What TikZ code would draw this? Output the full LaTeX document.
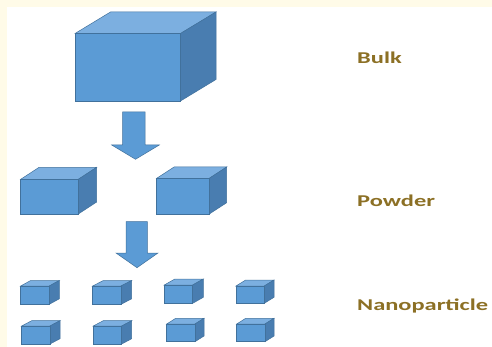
\documentclass[tikz,border=0pt]{standalone}
\usepackage{fontspec}
\setmainfont{Carlito}
\definecolor{cream}{HTML}{FFFBE8}
\definecolor{cfront}{HTML}{5B9BD5}
\definecolor{ctop}{HTML}{7CAFE0}
\definecolor{cside}{HTML}{497DB0}
\definecolor{cedge}{HTML}{41719C}
\definecolor{ctext}{HTML}{8C7025}
\newcommand\mycube[6]{%
  \fill[ctop,draw=cedge,line width=0.5pt] (#1,#2) -- ({#1+#5},{#2-#6}) -- ({#1+#3+#5},{#2-#6}) -- ({#1+#3},#2) -- cycle;
  \fill[cside,draw=cedge,line width=0.5pt] ({#1+#3},#2) -- ({#1+#3+#5},{#2-#6}) -- ({#1+#3+#5},{#2+#4-#6}) -- ({#1+#3},{#2+#4}) -- cycle;
  \fill[cfront,draw=cedge,line width=0.5pt] (#1,#2) rectangle ({#1+#3},{#2+#4});
}
\tikzset{
  lbl/.style={anchor=base west,inner sep=0pt,text=ctext,font=\bfseries\fontsize{16.5}{18}\selectfont},
  arr/.style={fill=cfront,draw=cedge,line width=0.5pt}
}
\begin{document}
\begin{tikzpicture}[x=1pt,y=-1pt]
\useasboundingbox (0,0) rectangle (492,347);
\fill[white] (0,0) rectangle (492,347);
\fill[cream] (0,0) rectangle (492,7.5);
\fill[cream] (0,0) rectangle (6.5,347);
% bulk
\mycube{75}{33.5}{105.5}{67.5}{35.5}{21.5}
% arrows
\draw[arr] (122.7,112) -- (145,112) -- (145,145) -- (159.3,145) -- (135.5,159.3) -- (111.7,145) -- (122.7,145) -- cycle;
\draw[arr] (126,221.7) -- (147.3,221.7) -- (147.3,253) -- (158,253) -- (137,267.7) -- (116,253) -- (126,253) -- cycle;
% powder
\mycube{20.7}{179.3}{57.6}{34.7}{18.4}{12}
\mycube{156.7}{178.3}{52.6}{35.7}{17.4}{11.3}
% nanoparticles
\mycube{20.7}{286}{28.6}{18.3}{10}{5.5}
\mycube{92.7}{286}{28.3}{18.3}{10.7}{5.5}
\mycube{164.3}{285}{28.4}{18.3}{10.6}{6}
\mycube{236}{286}{28.3}{17.3}{9.7}{6}
\mycube{21.7}{326}{28.3}{18}{10}{5.3}
\mycube{93.3}{326}{28.4}{18}{10}{5.3}
\mycube{166.7}{324}{28.3}{17.7}{9}{5.7}
\mycube{236.7}{324}{28.3}{17.7}{9}{5.7}
% labels
\node[lbl] (bulk) at (357,63.3) {\scalebox{1.48}[1]{Bulk}};
\node[lbl] (powder) at (357,206.7) {\scalebox{1.48}[1]{Powder}};
\node[lbl] (nano) at (357,310) {\scalebox{1.48}[1]{Nanoparticle}};
\end{tikzpicture}
\end{document}
